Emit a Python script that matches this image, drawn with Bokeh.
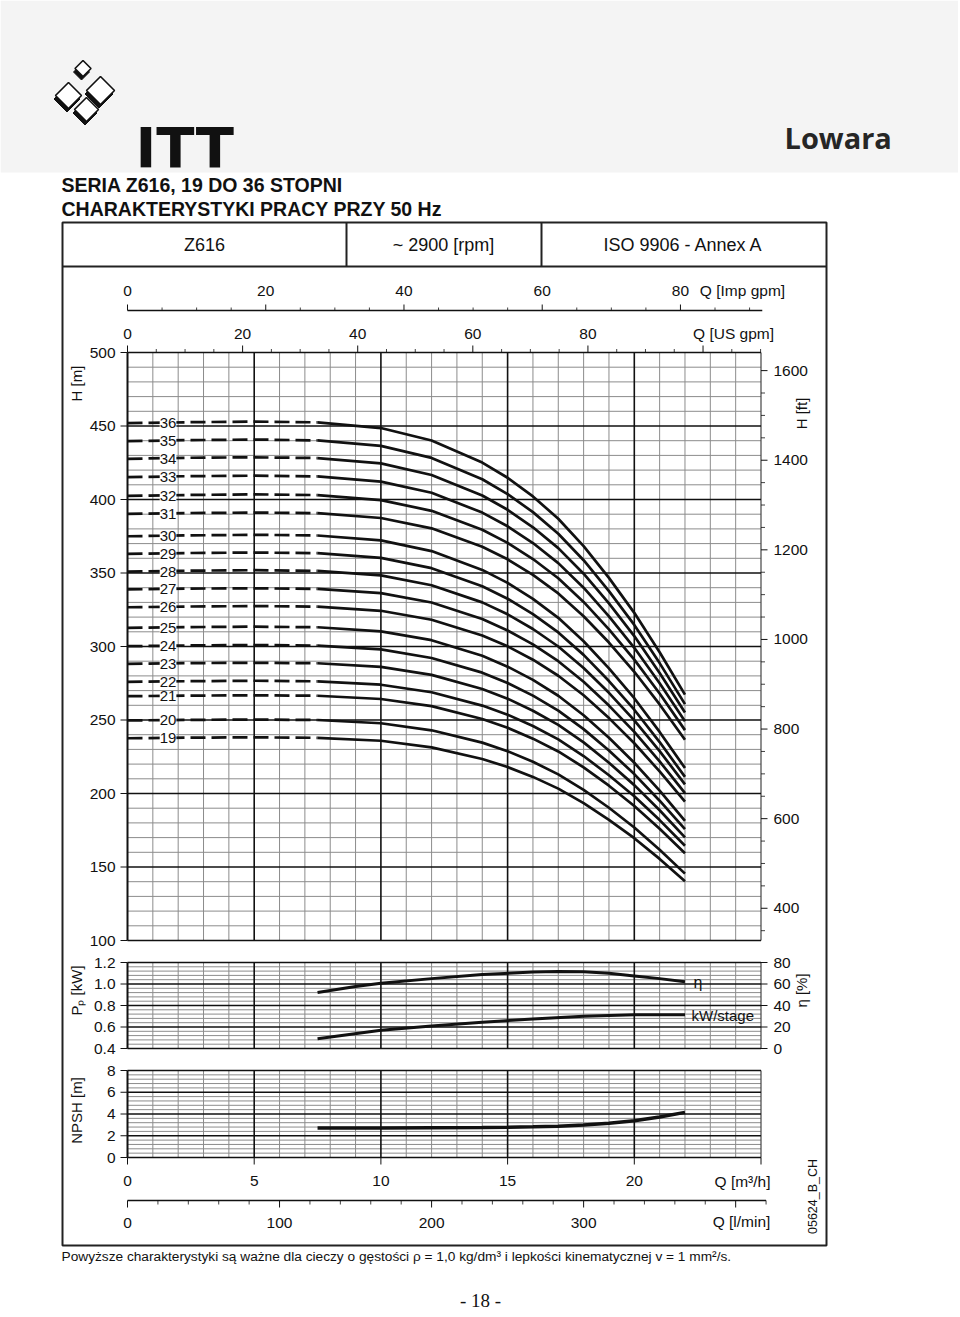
import math
from bokeh.plotting import figure
from bokeh.models import Range1d
from bokeh.core.properties import value
from bokeh.embed import file_html
from bokeh.resources import INLINE

# ------------------------------------------------------------------ data
stages = [36, 35, 34, 33, 32, 31, 30, 29, 28, 27, 26, 25, 24, 23, 22, 21, 20, 19]
q_pts = [0, 2.5, 5, 7.5, 10, 12, 14, 15, 16, 17, 18, 19, 20, 21, 22]

H36 = [451.9, 452.6, 453.0, 452.5, 448.6, 440.1, 425.1, 414.8, 402.1, 386.9, 368.3, 346.7, 322.9, 296.1, 267.3]
H35 = [439.7, 440.4, 440.8, 440.2, 436.5, 428.3, 413.8, 403.7, 391.4, 376.7, 358.7, 337.7, 314.7, 288.7, 260.8]
H34 = [427.7, 428.4, 428.7, 428.2, 424.6, 416.7, 402.7, 393.0, 381.1, 366.9, 349.5, 329.3, 307.1, 282.0, 255.1]
H33 = [415.2, 415.9, 416.2, 415.7, 412.2, 404.6, 391.1, 381.8, 370.4, 356.7, 340.0, 320.5, 299.1, 275.0, 249.1]
H32 = [402.5, 403.1, 403.5, 403.0, 399.6, 392.3, 379.4, 370.5, 359.5, 346.4, 330.3, 311.6, 291.1, 268.0, 243.1]
H31 = [390.2, 390.8, 391.1, 390.7, 387.4, 380.4, 367.9, 359.3, 348.7, 336.1, 320.6, 302.7, 282.8, 260.6, 236.6]
H30 = [375.0, 375.6, 376.0, 375.5, 372.2, 364.9, 352.1, 343.3, 332.4, 319.5, 303.6, 285.1, 264.8, 241.9, 217.3]
H29 = [363.0, 363.6, 363.9, 363.5, 360.3, 353.3, 341.0, 332.5, 322.0, 309.6, 294.3, 276.5, 257.0, 235.0, 211.3]
H28 = [351.0, 351.6, 351.9, 351.4, 348.4, 341.7, 330.0, 321.9, 311.9, 300.0, 285.4, 268.5, 249.8, 228.8, 206.2]
H27 = [338.8, 339.4, 339.6, 339.2, 336.3, 329.9, 318.7, 310.9, 301.4, 290.0, 276.0, 259.8, 241.9, 221.8, 200.2]
H26 = [326.7, 327.2, 327.5, 327.1, 324.3, 318.2, 307.5, 300.1, 291.0, 280.1, 266.8, 251.3, 234.2, 215.0, 194.4]
H25 = [312.7, 313.2, 313.5, 313.1, 310.3, 304.3, 293.7, 286.3, 277.3, 266.5, 253.2, 237.9, 220.9, 201.9, 181.4]
H24 = [300.2, 300.7, 301.0, 300.6, 298.0, 292.2, 282.2, 275.2, 266.6, 256.4, 243.8, 229.2, 213.2, 195.1, 175.7]
H23 = [288.2, 288.7, 288.9, 288.6, 286.1, 280.7, 271.1, 264.5, 256.3, 246.7, 234.8, 220.9, 205.7, 188.6, 170.2]
H22 = [276.0, 276.4, 276.7, 276.3, 274.0, 268.9, 259.8, 253.6, 245.9, 236.8, 225.5, 212.4, 198.1, 181.9, 164.5]
H21 = [266.2, 266.6, 266.8, 266.5, 264.3, 259.4, 250.7, 244.7, 237.3, 228.6, 217.8, 205.3, 191.5, 176.0, 159.3]
H20 = [249.7, 250.1, 250.3, 250.0, 247.8, 243.0, 234.6, 228.8, 221.6, 213.0, 202.5, 190.3, 176.9, 161.8, 145.5]
H19 = [237.6, 238.0, 238.2, 237.9, 235.9, 231.4, 223.5, 218.0, 211.3, 203.3, 193.5, 182.1, 169.6, 155.5, 140.3]
head_curves = [H36, H35, H34, H33, H32, H31, H30, H29, H28, H27, H26, H25, H24, H23, H22, H21, H20, H19]
dashed_until = 3  # index in q_pts where the solid (operating) part starts (7.5 m3/h)

eta_q = [7.5, 9, 10, 12, 14, 16, 17, 18, 19, 20, 21, 22]
eta_v = [52.0, 57.6, 60.7, 65.0, 68.8, 71.2, 71.7, 71.3, 70.0, 67.5, 65.0, 62.0]

pp_q = [7.5, 10, 12, 14, 16, 18, 20, 22]
pp_v = [0.49, 0.57, 0.61, 0.645, 0.675, 0.70, 0.715, 0.713]

npsh_q = [7.5, 10, 12, 14, 15, 16, 17, 18, 19, 20, 21, 22]
npsh_v = [2.72, 2.72, 2.74, 2.76, 2.78, 2.82, 2.88, 2.98, 3.14, 3.38, 3.72, 4.15]

h_ticks = [100, 150, 200, 250, 300, 350, 400, 450, 500]
hft_ticks = [400, 600, 800, 1000, 1200, 1400, 1600]
pp_ticks = [0.4, 0.6, 0.8, 1.0, 1.2]
pp_labels = ["0.4", "0.6", "0.8", "1.0", "1.2"]
eta_ticks = [0, 20, 40, 60, 80]
npsh_ticks = [0, 2, 4, 6, 8]
q_ticks = [0, 5, 10, 15, 20]
usg_ticks = [0, 20, 40, 60, 80]
imp_ticks = [0, 20, 40, 60, 80]
lpm_ticks = [0, 100, 200, 300]

# ------------------------------------------------------------------ page / scales
W, H = 958, 1316
X0, X1 = 0, W
Y0, Y1 = 0, H
SANS = value("Liberation Sans")
INK = "#111111"
MINOR = "#8c8c8c"


def xr(va, pa, vb, pb):
    s = (vb - va) / (pb - pa)
    return Range1d(start=va + (X0 - pa) * s, end=va + (X1 - pa) * s)


def yr(va, pa, vb, pb):
    s = (vb - va) / (pb - pa)
    return Range1d(start=va + (Y1 - pa) * s, end=va + (Y0 - pa) * s)


QL, QR = 127, 760.5          # Q = 0 and Q = 25 m3/h
p = figure(width=W, height=H, x_range=Range1d(X0, X1), y_range=Range1d(Y1, Y0),
           output_backend="svg", toolbar_location=None, min_border=0,
           x_axis_location=None, y_axis_location=None, outline_line_color=None)
p.grid.visible = False
p.background_fill_color = "white"
p.border_fill_color = "white"

p.extra_x_ranges = {
    "q": xr(0, QL, 25, QR),
    "usg": xr(0, QL, 25 / 0.2271247, QR),
    "imp": xr(0, QL, 25 / 0.2727654, QR),
    "lpm": xr(0, QL, 25 * 1000 / 60, QR),
}
p.extra_y_ranges = {
    "h": yr(500, 352, 100, 940),
    "hft": yr(500 / 0.3048, 352, 100 / 0.3048, 940),
    "pp": yr(1.2, 962, 0.4, 1048),
    "eta": yr(80, 962, 0, 1048),
    "npsh": yr(8, 1070, 0, 1157),
}


def txt(x, y, s, size="15px", align="left", base="middle", font=SANS, xn="default", yn="default",
        angle=0.0, color=INK, style="normal", **kw):
    xs = x if isinstance(x, list) else [x]
    ys = y if isinstance(y, list) else [y]
    ss = s if isinstance(s, list) else [s]
    p.text(x=xs, y=ys, text=ss, text_font=font, text_font_size=size, text_align=align,
           text_baseline=base, x_range_name=xn, y_range_name=yn, angle=angle,
           text_color=color, text_font_style=style, **kw)


def seg(x0, y0, x1, y1, xn="default", yn="default", color=INK, width=1.0):
    p.segment(x0=x0, y0=y0, x1=x1, y1=y1, x_range_name=xn, y_range_name=yn,
              line_color=color, line_width=width)


# ------------------------------------------------------------------ page header
p.quad(left=[X0], right=[X1], top=[Y0], bottom=[172], fill_color="#f4f4f4", line_color=None)


def diamond(cx, cy, r):
    return [cx, cx + r, cx, cx - r], [cy - r, cy, cy + r, cy]


logo = [(82.5, 68, 8), (68, 95, 13), (100, 90, 14), (86, 109, 12)]
p.patches([diamond(cx - 1.5, cy + 3.5, r)[0] for cx, cy, r in logo],
          [diamond(cx - 1.5, cy + 3.5, r)[1] for cx, cy, r in logo], fill_color="#111", line_color="#111")
p.patches([diamond(cx, cy, r)[0] for cx, cy, r in logo],
          [diamond(cx, cy, r)[1] for cx, cy, r in logo], fill_color="white", line_color="#111",
          line_width=1.6)
txt(135, 147, "ITT", size="56px", base="alphabetic", font=value("DejaVu Sans"), style="bold")
txt(784, 137, "Lowara", size="29px", font=value("Open Sans"), color="#262626", style="bold")

txt(61, 184, "SERIA Z616, 19 DO 36 STOPNI", size="19.5px", style="bold")
txt(61, 208, "CHARAKTERYSTYKI PRACY PRZY 50 Hz", size="19.5px", style="bold")

# ------------------------------------------------------------------ outer box and table row
p.quad(left=[62], right=[826], top=[222], bottom=[1245], fill_color=None, line_color="#222", line_width=2)
seg([62, 346, 541], [266, 222, 222], [826, 346, 541], [266, 266, 266], color="#222", width=2)
txt([204, 443, 683], [244, 244, 244], ["Z616", "~ 2900 [rpm]", "ISO 9906 - Annex A"], size="18px",
    align="center")

# ------------------------------------------------------------------ grids
q_minor = [q for q in range(1, 25) if q % 5]
q_major = [5, 10, 15, 20]


def panel(yn, lo, hi, minors, majors):
    seg(q_minor, [lo] * len(q_minor), q_minor, [hi] * len(q_minor), xn="q", yn=yn, color=MINOR, width=1)
    seg([0] * len(minors), minors, [25] * len(minors), minors, xn="q", yn=yn, color=MINOR, width=1)
    seg([25], [lo], [25], [hi], xn="q", yn=yn, color="#444", width=1.2)
    seg(q_major, [lo] * 4, q_major, [hi] * 4, xn="q", yn=yn, color=INK, width=1.6)
    seg([0] * len(majors), majors, [25] * len(majors), majors, xn="q", yn=yn, color=INK, width=1.6)
    seg([0], [lo], [0], [hi], xn="q", yn=yn, color=INK, width=2)


panel("h", 100, 500, [v for v in range(110, 500, 10) if v % 50], h_ticks)
panel("pp", 0.4, 1.2, [round(0.4 + 0.04 * i, 2) for i in range(21) if i % 5], pp_ticks)
panel("npsh", 0, 8, [round(0.4 * i, 1) for i in range(21) if i % 5], npsh_ticks)

# ------------------------------------------------------------------ head curves
for n, hv in zip(stages, head_curves):
    p.line(q_pts[:dashed_until + 1], hv[:dashed_until + 1], x_range_name="q", y_range_name="h",
           line_color=INK, line_width=2.7, line_dash="15 6")
    p.line(q_pts[dashed_until:], hv[dashed_until:], x_range_name="q", y_range_name="h",
           line_color=INK, line_width=2.7)
txt([1.6] * len(stages), [hv[0] for hv in head_curves], [str(n) for n in stages], size="15px",
    align="center", xn="q", yn="h", background_fill_color="white")

# ------------------------------------------------------------------ efficiency, power, NPSH
p.line(eta_q, eta_v, x_range_name="q", y_range_name="eta", line_color=INK, line_width=3)
p.line(pp_q, pp_v, x_range_name="q", y_range_name="pp", line_color=INK, line_width=3)
p.line(npsh_q, npsh_v, x_range_name="q", y_range_name="npsh", line_color=INK, line_width=3.5)
txt(693, 982, "η", size="16px")
txt(691, 1015, "kW/stage", size="15px")

# ------------------------------------------------------------------ left axes
seg([120] * len(h_ticks), h_ticks, [127] * len(h_ticks), h_ticks, yn="h")
txt([115] * len(h_ticks), h_ticks, [str(v) for v in h_ticks], size="15.5px", align="right", yn="h")
seg([120] * len(pp_ticks), pp_ticks, [127] * len(pp_ticks), pp_ticks, yn="pp")
txt([115] * len(pp_ticks), pp_ticks, pp_labels, size="15.5px", align="right", yn="pp")
seg([120] * len(npsh_ticks), npsh_ticks, [127] * len(npsh_ticks), npsh_ticks, yn="npsh")
txt([115] * len(npsh_ticks), npsh_ticks, [str(v) for v in npsh_ticks], size="15.5px", align="right",
    yn="npsh")
txt(76, 383, "H [m]", size="15px", align="center", angle=math.pi / 2)
txt(76, 990, "Pₚ [kW]", size="15px", align="center", angle=math.pi / 2)
txt(76, 1110, "NPSH [m]", size="15px", align="center", angle=math.pi / 2)

# ------------------------------------------------------------------ right axes
hft_minor = [v for v in range(350, 1650, 50) if v % 200]
seg([760.5] * len(hft_ticks), hft_ticks, [767] * len(hft_ticks), hft_ticks, yn="hft")
seg([760.5] * len(hft_minor), hft_minor, [764.5] * len(hft_minor), hft_minor, yn="hft", width=0.8)
txt([773] * len(hft_ticks), hft_ticks, [str(v) for v in hft_ticks], size="15.5px", yn="hft")
txt(801, 413, "H [ft]", size="15px", align="center", angle=math.pi / 2)
seg([760.5] * len(eta_ticks), eta_ticks, [767] * len(eta_ticks), eta_ticks, yn="eta")
txt([773] * len(eta_ticks), eta_ticks, [str(v) for v in eta_ticks], size="15.5px", yn="eta")
txt(801, 990, "η [%]", size="15px", align="center", angle=math.pi / 2)

# ------------------------------------------------------------------ top axes (US gpm, Imp gpm)
usg_major = [0, 20, 40, 60, 80, 100]
usg_minor = [v for v in range(5, 111, 5) if v % 20]
seg(usg_major, [352] * 6, usg_major, [345] * 6, xn="usg")
seg(usg_minor, [352] * len(usg_minor), usg_minor, [348.5] * len(usg_minor), xn="usg", width=0.8)
txt(usg_ticks, [333] * 5, [str(v) for v in usg_ticks], size="15.5px", align="center", xn="usg")
txt(733, 333, "Q [US gpm]", size="15.5px", align="center")

seg([0], [310], [25.05], [310], xn="q", width=1.4)
imp_major = [0, 20, 40, 60, 80]
imp_minor = [v for v in range(5, 91, 5) if v % 20]
seg(imp_major, [310] * 5, imp_major, [304] * 5, xn="imp")
seg(imp_minor, [310] * len(imp_minor), imp_minor, [307] * len(imp_minor), xn="imp", width=0.8)
txt(imp_ticks, [290] * 5, [str(v) for v in imp_ticks], size="15.5px", align="center", xn="imp")
txt(742, 290, "Q [Imp gpm]", size="15.5px", align="center")

# ------------------------------------------------------------------ bottom axes (m3/h, l/min)
q_all = [0, 5, 10, 15, 20, 25]
seg(q_all, [1157] * 6, q_all, [1164] * 6, xn="q")
txt(q_ticks, [1180] * 5, [str(v) for v in q_ticks], size="15.5px", align="center", xn="q")
txt(742, 1181, "Q [m³/h]", size="15.5px", align="center")

seg([0], [1200], [25.2], [1200], xn="q", width=1.4)
lpm_major = [0, 100, 200, 300, 400]
lpm_minor = [v for v in range(20, 421, 20) if v % 100]
seg(lpm_major, [1200] * 5, lpm_major, [1207] * 5, xn="lpm")
seg(lpm_minor, [1200] * len(lpm_minor), lpm_minor, [1204] * len(lpm_minor), xn="lpm", width=0.8)
txt(lpm_ticks, [1222] * 4, [str(v) for v in lpm_ticks], size="15.5px", align="center", xn="lpm")
txt(741, 1221, "Q [l/min]", size="15.5px", align="center")

txt(812, 1196, "05624_B_CH", size="12.5px", align="center", angle=math.pi / 2)

# ------------------------------------------------------------------ footnote and page number
txt(61, 1256, "Powyższe charakterystyki są ważne dla cieczy o gęstości ρ = 1,0 kg/dm³ i lepkości "
              "kinematycznej v = 1 mm²/s.", size="13.7px")
txt(480, 1300, "- 18 -", size="19px", align="center", font=value("Liberation Serif"))

open("out.html", "w").write(file_html(p, INLINE))
